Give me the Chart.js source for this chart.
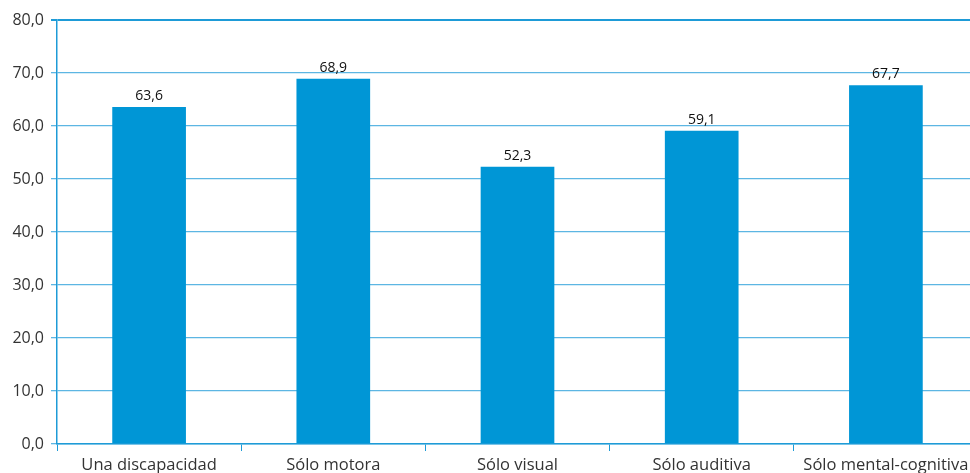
<!DOCTYPE html>
<html><head><meta charset="utf-8">
<script src="https://cdn.jsdelivr.net/npm/chart.js@4/dist/chart.umd.min.js"></script>
<style>html,body{margin:0;padding:0;overflow:hidden;background:#fff}#wrap{width:978px;height:473px;position:relative}</style>
</head><body><div id="wrap"><canvas id="c"></canvas></div>
<script>
const categories = ["Una discapacidad","Sólo motora","Sólo visual","Sólo auditiva","Sólo mental-cognitiva"];
const values = [63.6, 68.9, 52.3, 59.1, 67.7];
const yTicks = [0,10,20,30,40,50,60,70,80];
const fmt = v => v.toFixed(1).replace('.', ',');
const labelPlugin = {
  id:'vlabels',
  afterDatasetsDraw(chart){
    const ctx = chart.ctx;
    const meta = chart.getDatasetMeta(0);
    ctx.save();
    ctx.font = '14px "Open Sans", sans-serif';
    ctx.fillStyle = '#111';
    ctx.textAlign = 'center';
    ctx.textBaseline = 'alphabetic';
    meta.data.forEach((b,i)=>{ ctx.fillText(fmt(values[i]), b.x, b.y - 7); });
    ctx.restore();
  }
};
new Chart(document.getElementById('c'), {
  type:'bar',
  data:{labels:categories, datasets:[{data:values, backgroundColor:'#0096D6', barPercentage:0.4, categoryPercentage:1}]},
  options:{
    responsive:true, maintainAspectRatio:false, animation:false,
    layout:{padding:{top:20,right:0,left:0,bottom:0}},
    plugins:{legend:{display:false}, tooltip:{enabled:false}},
    scales:{
      x:{
        grid:{drawOnChartArea:false, color:'#1E9BD7', tickLength:7, offset:true},
        border:{color:'#1E9BD7', width:1.5},
        ticks:{font:{family:'"Open Sans", sans-serif', size:16.5}, color:'#333', padding:4, maxRotation:0},
        afterFit(s){ s.height = 29; }
      },
      y:{
        min:0, max:80,
        afterBuildTicks(s){ s.ticks = yTicks.map(v=>({value:v})); },
        grid:{color:(c)=> c.tick && c.tick.value===80 ? '#1E9BD7' : '#5DB6E3', lineWidth:(c)=> c.tick && c.tick.value===80 ? 2 : 1.3, tickLength:6},
        border:{color:'#1E9BD7', width:1.5},
        ticks:{font:{family:'"Open Sans", sans-serif', size:16}, color:'#333', padding:7, callback:(v)=>fmt(v)},
        afterFit(s){ s.width = 57; }
      }
    }
  },
  plugins:[labelPlugin]
});
</script></body></html>
